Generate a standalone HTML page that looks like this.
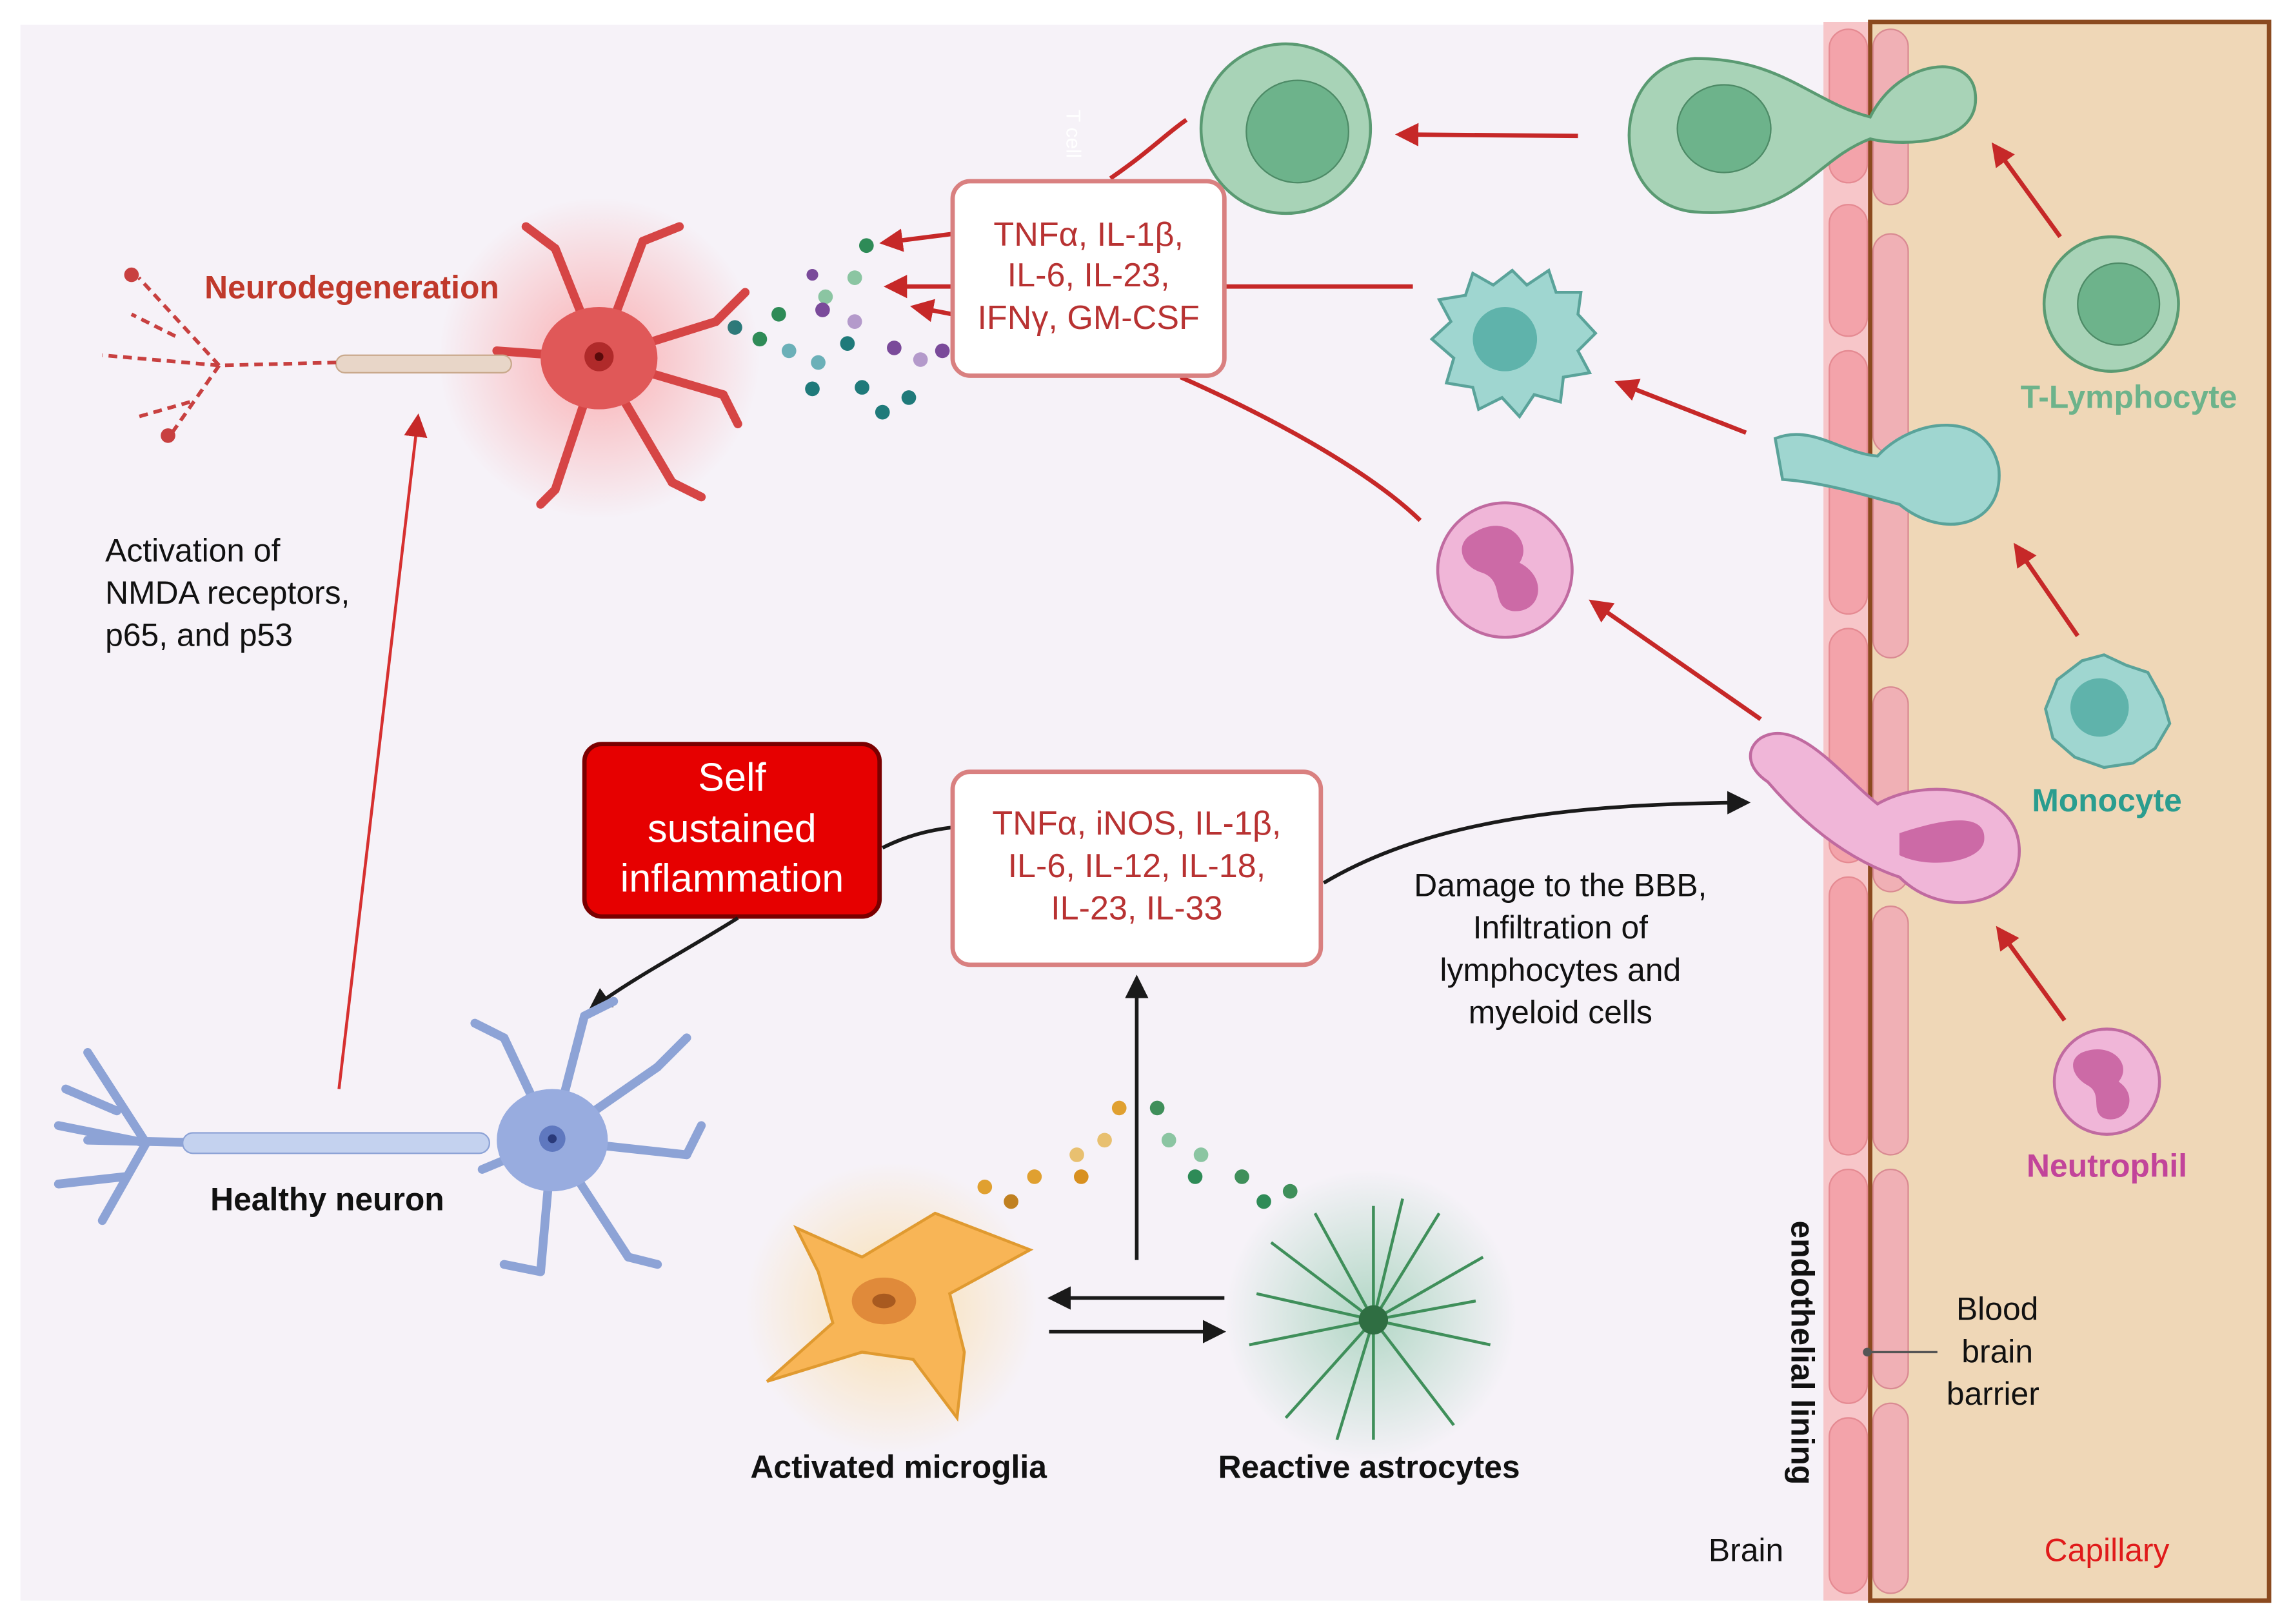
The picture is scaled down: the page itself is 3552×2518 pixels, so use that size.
<!DOCTYPE html>
<html><head><meta charset="utf-8"><style>
html,body{margin:0;padding:0;background:#fff}
svg{display:block}
text{font-family:"Liberation Sans",sans-serif}
</style></head><body>
<svg width="3552" height="2518" viewBox="0 0 1568 1111" preserveAspectRatio="none" xmlns="http://www.w3.org/2000/svg">
<defs>
<marker id="ar" markerWidth="8" markerHeight="8" refX="6" refY="4" orient="auto" markerUnits="userSpaceOnUse" viewBox="0 0 8 8"><path d="M0,0 L8,4 L0,8 z" fill="#c62828"/></marker>
<marker id="ar2" viewBox="0 0 10 10" refX="8" refY="5" markerWidth="16" markerHeight="16" orient="auto" markerUnits="userSpaceOnUse"><path d="M0,0 L10,5 L0,10 z" fill="#c62828"/></marker>
<marker id="ab" viewBox="0 0 10 10" refX="8" refY="5" markerWidth="16" markerHeight="16" orient="auto" markerUnits="userSpaceOnUse"><path d="M0,0 L10,5 L0,10 z" fill="#1a1a1a"/></marker>
<radialGradient id="glowR"><stop offset="0" stop-color="#ff6b6b" stop-opacity=".5"/><stop offset="1" stop-color="#ff6b6b" stop-opacity="0"/></radialGradient>
<radialGradient id="glowY"><stop offset="0" stop-color="#ffcc66" stop-opacity=".5"/><stop offset="1" stop-color="#ffcc66" stop-opacity="0"/></radialGradient>
<radialGradient id="glowG"><stop offset="0" stop-color="#4caf7a" stop-opacity=".4"/><stop offset="1" stop-color="#4caf7a" stop-opacity="0"/></radialGradient>
</defs>
<rect width="1568" height="1111" fill="#fff"/>
<rect x="14" y="17" width="1240" height="1078" fill="#f6f2f8"/>
<!-- endothelium -->
<rect x="1248" y="15" width="34" height="1080" fill="#f7c6c9"/>
<rect x="1280" y="15" width="273" height="1080" fill="#efd7b7" stroke="#8b4a1f" stroke-width="3"/>
<g fill="#f3a3aa" stroke="#e58a92" stroke-width="1">
<rect x="1252" y="20" width="26" height="105" rx="13"/><rect x="1252" y="140" width="26" height="90" rx="13"/>
<rect x="1252" y="240" width="26" height="180" rx="13"/><rect x="1252" y="430" width="26" height="160" rx="13"/>
<rect x="1252" y="600" width="26" height="190" rx="13"/><rect x="1252" y="800" width="26" height="160" rx="13"/>
<rect x="1252" y="970" width="26" height="120" rx="13"/>
</g>
<g fill="#f0b0b5" stroke="#d98a92" stroke-width="1">
<rect x="1282" y="20" width="24" height="120" rx="12"/><rect x="1282" y="160" width="24" height="150" rx="12"/>
<rect x="1282" y="320" width="24" height="130" rx="12"/><rect x="1282" y="470" width="24" height="140" rx="12"/>
<rect x="1282" y="620" width="24" height="170" rx="12"/><rect x="1282" y="800" width="24" height="150" rx="12"/>
<rect x="1282" y="960" width="24" height="130" rx="12"/>
</g>
<!-- T-cell transmigrating -->
<path d="M1160,40 C1220,40 1240,70 1280,80 C1300,40 1350,35 1352,65 C1355,100 1300,100 1280,95 C1240,110 1230,150 1160,145 C1100,140 1100,45 1160,40z" fill="#a8d3b7" stroke="#5a9a72" stroke-width="2"/>
<ellipse cx="1180" cy="88" rx="32" ry="30" fill="#6db38b" stroke="#4d8a66"/>
<circle cx="880" cy="88" r="58" fill="#a8d3b7" stroke="#5a9a72" stroke-width="2"/>
<circle cx="888" cy="90" r="35" fill="#6db38b" stroke="#4d8a66"/>
<circle cx="1445" cy="208" r="46" fill="#a8d3b7" stroke="#5a9a72" stroke-width="2"/>
<circle cx="1450" cy="208" r="28" fill="#6db38b" stroke="#4d8a66"/>
<!-- monocyte transmigrating -->
<path d="M1215,300 C1240,290 1260,310 1285,312 C1310,285 1360,280 1368,320 C1372,360 1330,370 1300,345 C1280,340 1250,330 1220,328z" fill="#9fd6d0" stroke="#5aa39a" stroke-width="2"/>
<path d="M1035,185 L1045,195 L1060,185 L1065,200 L1082,200 L1080,215 L1092,228 L1080,240 L1088,255 L1070,258 L1068,275 L1050,270 L1040,285 L1028,272 L1012,280 L1008,265 L990,262 L995,245 L980,232 L993,220 L985,205 L1003,202 L1008,187 L1022,195z" fill="#9fd6d0" stroke="#5aa39a" stroke-width="2"/>
<circle cx="1030" cy="232" r="22" fill="#5fb3ab"/>
<path d="M1440,448 L1455,455 L1470,460 L1480,478 L1485,495 L1475,512 L1460,522 L1440,525 L1420,518 L1405,505 L1400,485 L1408,465 L1425,452z" fill="#9fd6d0" stroke="#5aa39a" stroke-width="2"/>
<circle cx="1437" cy="484" r="20" fill="#5fb3ab"/>
<!-- neutrophils -->
<circle cx="1030" cy="390" r="46" fill="#f0b6d8" stroke="#c06aa0" stroke-width="2"/>
<path d="M1008,365 C1030,350 1050,370 1040,385 C1060,395 1055,420 1035,418 C1020,415 1030,398 1015,392 C1000,388 995,372 1008,365z" fill="#cc6aa6"/>
<circle cx="1442" cy="740" r="36" fill="#f0b6d8" stroke="#c06aa0" stroke-width="2"/>
<path d="M1425,720 C1445,712 1460,728 1450,740 C1465,750 1455,770 1440,765 C1430,760 1440,748 1428,742 C1418,736 1415,725 1425,720z" fill="#cc6aa6"/>
<path d="M1205,505 C1230,490 1260,530 1285,550 C1320,530 1380,540 1382,580 C1384,620 1330,630 1300,600 C1270,590 1240,570 1210,535 C1195,525 1195,512 1205,505z" fill="#f0b6d8" stroke="#c06aa0" stroke-width="2"/>
<path d="M1300,570 C1330,560 1360,555 1358,575 C1356,590 1320,595 1300,585z" fill="#cc6aa6"/>
<!-- red arrows right side -->
<g stroke="#c62828" stroke-width="3" fill="none">
<line x1="1080" y1="93" x2="958" y2="92" marker-end="url(#ar2)"/>
<line x1="1410" y1="162" x2="1365" y2="100" marker-end="url(#ar2)"/>
<line x1="1195" y1="296" x2="1108" y2="262" marker-end="url(#ar2)"/>
<line x1="1422" y1="435" x2="1380" y2="374" marker-end="url(#ar2)"/>
<line x1="1205" y1="492" x2="1090" y2="412" marker-end="url(#ar2)"/>
<line x1="1413" y1="698" x2="1368" y2="636" marker-end="url(#ar2)"/>
<line x1="838" y1="196" x2="967" y2="196"/>
<path d="M760,122 C785,105 800,90 812,82"/>
<path d="M808,258 C880,290 940,325 972,356"/>
<line x1="652" y1="160" x2="605" y2="166" marker-end="url(#ar2)"/>
<line x1="652" y1="196" x2="608" y2="196" marker-end="url(#ar2)"/>
<line x1="652" y1="215" x2="626" y2="210" marker-end="url(#ar2)"/>
</g>
<!-- cytokine box top -->
<rect x="652" y="124" width="186" height="133" rx="12" fill="#fff" stroke="#d98080" stroke-width="3"/>
<text font-size="23" fill="#b83232" text-anchor="middle"><tspan x="745" y="168">TNFα, IL-1β,</tspan><tspan x="745" y="196">IL-6, IL-23,</tspan><tspan x="745" y="225">IFNγ, GM-CSF</tspan></text>
<text x="730" y="75" font-size="14" fill="#fff" transform="rotate(90 730 75)">T cell</text>
<!-- dots -->
<g>
<circle cx="593" cy="168" r="5" fill="#2e8b57"/><circle cx="585" cy="190" r="5" fill="#8bc5a2"/><circle cx="556" cy="188" r="4" fill="#7a4a9a"/>
<circle cx="533" cy="215" r="5" fill="#2e8b57"/><circle cx="503" cy="224" r="5" fill="#1f7a7a"/><circle cx="520" cy="232" r="5" fill="#2e8b57"/>
<circle cx="565" cy="203" r="5" fill="#8bc5a2"/><circle cx="585" cy="220" r="5" fill="#b49acb"/><circle cx="563" cy="212" r="5" fill="#7a4a9a"/>
<circle cx="540" cy="240" r="5" fill="#6bb0b8"/><circle cx="580" cy="235" r="5" fill="#1f7a7a"/><circle cx="560" cy="248" r="5" fill="#6bb0b8"/>
<circle cx="612" cy="238" r="5" fill="#7a4a9a"/><circle cx="630" cy="246" r="5" fill="#b49acb"/><circle cx="645" cy="240" r="5" fill="#7a4a9a"/>
<circle cx="556" cy="266" r="5" fill="#1f7a7a"/><circle cx="590" cy="265" r="5" fill="#1f7a7a"/><circle cx="622" cy="272" r="5" fill="#1f7a7a"/><circle cx="604" cy="282" r="5" fill="#1f7a7a"/>
</g>
<!-- Degenerating neuron -->
<circle cx="410" cy="245" r="110" fill="url(#glowR)"/>
<g stroke="#d64545" stroke-width="6" stroke-linecap="round" fill="none">
<path d="M410,245 L380,170 M410,245 L440,165 M410,245 L490,220 M410,245 L495,270 M410,245 L460,330 M410,245 L380,335 M410,245 L340,240"/>
<path d="M380,170 L360,155 M440,165 L465,155 M490,220 L510,200 M495,270 L505,290 M460,330 L480,340 M380,335 L370,345"/>
</g>
<ellipse cx="410" cy="245" rx="40" ry="35" fill="#e05858"/>
<circle cx="410" cy="244" r="10" fill="#b02a2a"/><circle cx="410" cy="244" r="3" fill="#5a0a0a"/>
<g fill="#e8d6c8" stroke="#c9a98c"><rect x="230" y="243" width="120" height="12" rx="6"/></g>
<g stroke="#c84040" stroke-width="2.5" fill="none" stroke-dasharray="6,4">
<path d="M230,248 L150,250 M150,250 L95,190 M150,250 L70,243 M150,250 L115,300 M120,230 L90,215 M130,275 L95,285"/>
</g>
<circle cx="90" cy="188" r="5" fill="#c84040"/><circle cx="115" cy="298" r="5" fill="#c84040"/>
<text x="140" y="204" font-size="22" font-weight="bold" fill="#c0392b">Neurodegeneration</text>
<!-- red long arrow -->
<line x1="232" y1="745" x2="286" y2="286" stroke="#d63030" stroke-width="2" marker-end="url(#ar2)"/>
<text font-size="22" fill="#111"><tspan x="72" y="384">Activation of</tspan><tspan x="72" y="413">NMDA receptors,</tspan><tspan x="72" y="442">p65, and p53</tspan></text>
<!-- Self sustained -->
<rect x="400" y="509" width="202" height="118" rx="12" fill="#e60000" stroke="#7a0000" stroke-width="3"/>
<text font-size="27" fill="#fff" text-anchor="middle"><tspan x="501" y="541">Self</tspan><tspan x="501" y="576">sustained</tspan><tspan x="501" y="610">inflammation</tspan></text>
<g stroke="#1a1a1a" stroke-width="2.5" fill="none">
<path d="M604,580 C620,572 635,568 652,566"/>
<path d="M505,628 C470,650 435,668 405,690" marker-end="url(#ab)"/>
<path d="M906,604 C980,560 1080,550 1195,549" marker-end="url(#ab)"/>
<line x1="778" y1="862" x2="778" y2="670" marker-end="url(#ab)"/>
<line x1="838" y1="888" x2="720" y2="888" marker-end="url(#ab)"/>
<line x1="718" y1="911" x2="836" y2="911" marker-end="url(#ab)"/>
</g>
<rect x="652" y="528" width="252" height="132" rx="12" fill="#fff" stroke="#d98080" stroke-width="3"/>
<text font-size="23" fill="#b83232" text-anchor="middle"><tspan x="778" y="571">TNFα, iNOS, IL-1β,</tspan><tspan x="778" y="600">IL-6, IL-12, IL-18,</tspan><tspan x="778" y="629">IL-23, IL-33</tspan></text>
<text font-size="22" fill="#111" text-anchor="middle"><tspan x="1068" y="613">Damage to the BBB,</tspan><tspan x="1068" y="642">Infiltration of</tspan><tspan x="1068" y="671">lymphocytes and</tspan><tspan x="1068" y="700">myeloid cells</tspan></text>
<!-- Healthy neuron -->
<g stroke="#8da3d6" stroke-width="6" stroke-linecap="round" fill="none">
<path d="M378,780 L345,710 M378,780 L400,695 M378,780 L450,730 M378,780 L470,790 M378,780 L430,860 M378,780 L370,870 M378,780 L330,800"/>
<path d="M345,710 L325,700 M400,695 L420,685 M450,730 L470,710 M470,790 L480,770 M430,860 L450,865 M370,870 L345,865"/>
<path d="M150,782 L60,780 M100,782 L60,720 M100,782 L40,770 M100,782 L70,835 M80,760 L45,745 M85,805 L40,810"/>
</g>
<ellipse cx="378" cy="780" rx="38" ry="35" fill="#98acdf"/>
<circle cx="378" cy="779" r="9" fill="#5f78bf"/><circle cx="378" cy="779" r="3" fill="#2a3a7a"/>
<rect x="125" y="775" width="210" height="14" rx="7" fill="#c4d2ef" stroke="#8da3d6"/>
<text x="224" y="828" font-size="22" font-weight="bold" fill="#111" text-anchor="middle">Healthy neuron</text>
<!-- glia -->
<circle cx="610" cy="895" r="100" fill="url(#glowY)"/>
<path d="M545,840 L590,860 L640,830 L705,855 L650,885 L660,925 L655,970 L625,930 L590,925 L525,945 L570,905 L560,870z" fill="#f8b556" stroke="#e09a30" stroke-width="2"/>
<ellipse cx="605" cy="890" rx="22" ry="16" fill="#e08a3a"/><ellipse cx="605" cy="890" rx="8" ry="5" fill="#a85a20"/>
<circle cx="938" cy="900" r="100" fill="url(#glowG)"/>
<g stroke="#3f8f5a" stroke-width="2" fill="none">
<path d="M940,903 L870,850 M940,903 L900,830 M940,903 L940,825 M940,903 L985,830 M940,903 L1015,860 M940,903 L1020,920 M940,903 L995,975 M940,903 L940,985 M940,903 L880,970 M940,903 L855,920 M940,903 L860,885 M940,903 L960,820 M940,903 L1010,890 M940,903 L915,985"/>
</g>
<circle cx="940" cy="903" r="10" fill="#2f6e42"/>
<g>
<circle cx="674" cy="812" r="5" fill="#e0a030"/><circle cx="692" cy="822" r="5" fill="#c08020"/><circle cx="708" cy="805" r="5" fill="#e0a030"/>
<circle cx="737" cy="790" r="5" fill="#e8c070"/><circle cx="740" cy="805" r="5" fill="#d89020"/><circle cx="756" cy="780" r="5" fill="#e8c070"/><circle cx="766" cy="758" r="5" fill="#e0a030"/>
<circle cx="792" cy="758" r="5" fill="#3f8f5a"/><circle cx="800" cy="780" r="5" fill="#8bc5a2"/><circle cx="822" cy="790" r="5" fill="#8bc5a2"/>
<circle cx="818" cy="805" r="5" fill="#2e8b57"/><circle cx="850" cy="805" r="5" fill="#3f8f5a"/><circle cx="865" cy="822" r="5" fill="#2e8b57"/><circle cx="883" cy="815" r="5" fill="#3f8f5a"/>
</g>
<text x="615" y="1011" font-size="22" font-weight="bold" fill="#111" text-anchor="middle">Activated microglia</text>
<text x="937" y="1011" font-size="22" font-weight="bold" fill="#111" text-anchor="middle">Reactive astrocytes</text>
<!-- labels right -->
<text x="1457" y="279" font-size="22" font-weight="bold" fill="#6db38b" text-anchor="middle">T-Lymphocyte</text>
<text x="1442" y="555" font-size="22" font-weight="bold" fill="#2a9d8f" text-anchor="middle">Monocyte</text>
<text x="1442" y="805" font-size="22" font-weight="bold" fill="#c2449a" text-anchor="middle">Neutrophil</text>
<text font-size="22" fill="#111" text-anchor="middle"><tspan x="1367" y="903">Blood</tspan><tspan x="1367" y="932">brain</tspan><tspan x="1364" y="961">barrier</tspan></text>
<line x1="1326" y1="925" x2="1278" y2="925" stroke="#555" stroke-width="1.5"/><circle cx="1278" cy="925" r="3" fill="#555"/>
<text x="1226" y="835" font-size="22" font-weight="bold" fill="#111" transform="rotate(90 1226 835)">endothelial lining</text>
<text x="1195" y="1068" font-size="22" fill="#111" text-anchor="middle">Brain</text>
<text x="1442" y="1068" font-size="22" fill="#e01a1a" text-anchor="middle">Capillary</text>
</svg>
</body></html>
